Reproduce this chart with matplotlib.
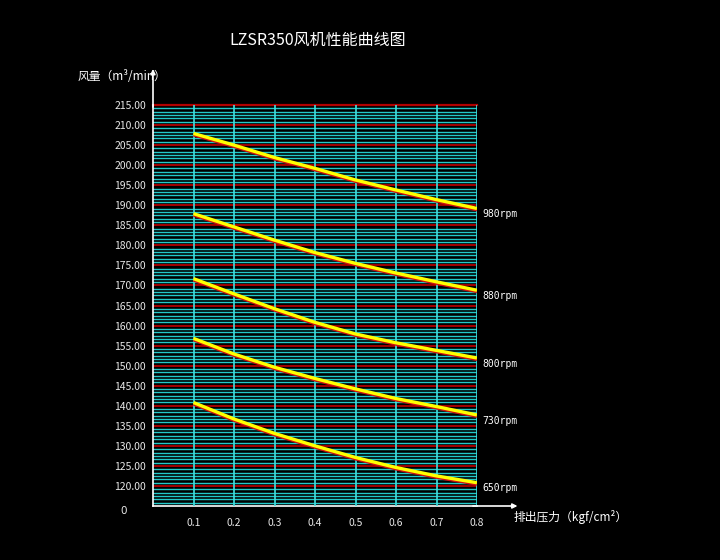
import numpy as np
import matplotlib
matplotlib.use('Agg')
import matplotlib.pyplot as plt
import matplotlib.transforms as mtransforms

plt.rcParams['font.family'] = ['Noto Sans CJK SC', 'DejaVu Sans']

# data
pressure = [0.1, 0.2, 0.3, 0.4, 0.5, 0.6, 0.7, 0.8]
speeds = ['980rpm', '880rpm', '800rpm', '730rpm', '650rpm']
flow_980 = [207.9, 205.0, 201.9, 199.2, 196.3, 193.8, 191.4, 189.2]
flow_880 = [187.9, 184.6, 181.3, 178.2, 175.5, 173.1, 170.9, 168.8]
flow_800 = [171.7, 167.9, 164.2, 160.8, 157.9, 155.7, 153.8, 151.9]
flow_730 = [156.8, 152.9, 149.6, 146.8, 144.2, 141.8, 139.8, 137.7]
flow_650 = [140.8, 136.7, 133.1, 130.0, 127.1, 124.6, 122.5, 120.8]
flows = [flow_980, flow_880, flow_800, flow_730, flow_650]
ytick_vals = list(range(120, 216, 5))

fig = plt.figure(figsize=(7.2, 5.6), dpi=100, facecolor='black')
ax = fig.add_axes([153/720, 54/560, 324/720, 401/560])
ax.set_facecolor('black')
ax.set_xlim(0, 0.8)
ax.set_ylim(115, 215)

### grid: cyan minor lines, red every 5
cyan = '#22c8c8'
red = '#b00000'
minor = 115 + np.arange(0, 121) * 5 / 6
for v in minor:
    if abs((v - 115) / 5 - round((v - 115) / 5)) > 1e-6:
        ax.axhline(v, color=cyan, lw=1.0, zorder=1)
for v in ytick_vals:
    ax.axhline(v, color=red, lw=1.3, zorder=2)
ax.axhline(215, color=red, lw=1.6, zorder=2, clip_on=False)
for p in pressure:
    ax.axvline(p, color='#40e0e0', lw=1.2, zorder=3)

### curves: yellow with red shadow underneath
shadow = mtransforms.offset_copy(ax.transData, fig=fig, x=0, y=-1.2, units='dots')
for name, f in zip(speeds, flows):
    ax.plot(pressure, f, color='#d01010', lw=2.6, zorder=4, transform=shadow,
            solid_capstyle='butt')
    ax.plot(pressure, f, color='#ffff00', lw=2.4, zorder=5, solid_capstyle='butt')
    ax.annotate(name, (pressure[-1], f[-1]), xytext=(4, -4), textcoords='offset points',
                color='white', fontsize=7, va='center', ha='left',
                family='DejaVu Sans Mono', annotation_clip=False)

### axes
for s in ['top', 'right']:
    ax.spines[s].set_visible(False)
for s in ['left', 'bottom']:
    ax.spines[s].set_color('white')
    ax.spines[s].set_linewidth(1.2)
ax.annotate('', xy=(0, 224), xytext=(0, 214.5), annotation_clip=False,
            arrowprops=dict(arrowstyle='-|>', color='white', lw=1.2,
                            mutation_scale=7, shrinkA=0, shrinkB=0))
ax.annotate('', xy=(0.9, 115), xytext=(0.79, 115), annotation_clip=False,
            arrowprops=dict(arrowstyle='-|>', color='white', lw=1.2,
                            mutation_scale=7, shrinkA=0, shrinkB=0))

ax.set_yticks(ytick_vals)
ax.set_yticklabels(['%.2f' % v for v in ytick_vals])
ax.set_xticks(pressure)
ax.set_xticklabels([str(p) for p in pressure])
ax.tick_params(colors='#e8e8e8', labelsize=7.5, length=0)
ax.tick_params(axis='y', pad=5)
ax.tick_params(axis='x', pad=9)
ax.text(-0.072, 115, '0', color='#e8e8e8', fontsize=7.5, ha='center', va='top',
        family='DejaVu Sans')

fig.text(318/720, 1 - 40/560, 'LZSR350风机性能曲线图', color='white', fontsize=11.5,
         ha='center', va='center')
fig.text(78/720, 1 - 77/560, '风量（m³/min）', color='white', fontsize=8.5,
         ha='left', va='center')
fig.text(514/720, 1 - 517/560, '排出压力（kgf/cm²）', color='white', fontsize=8.5,
         ha='left', va='center')

plt.savefig('out.png', dpi=100, facecolor='black')
